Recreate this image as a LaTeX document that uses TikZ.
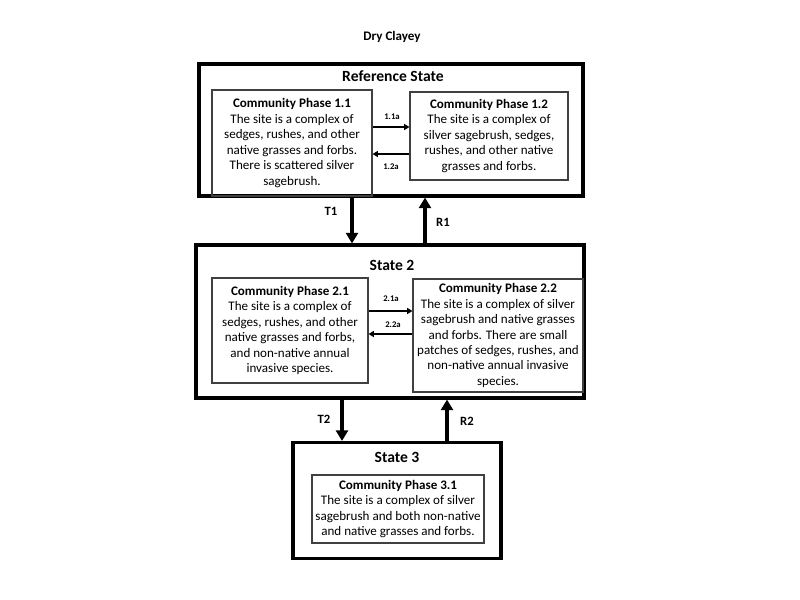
\documentclass[tikz,border=0pt]{standalone}
\usepackage{fontspec}
\setmainfont{Carlito}
\usetikzlibrary{arrows.meta,calc}
\tikzset{
  statebox/.style={draw=black, line width=2.3pt, rectangle, inner sep=0pt},
  phasebox/.style={draw=black!75, line width=0.8pt, rectangle, inner sep=0pt, align=center,
     font=\fontsize{9.8}{11.6}\selectfont},
  statetitle/.style={font=\fontsize{11.7}{13}\selectfont\bfseries, inner sep=0pt},
  bigarrow/.style={line width=3pt, -{Triangle[length=8pt,width=9pt]}},
  smallarrow/.style={line width=1pt, -{Triangle[length=4pt,width=4.5pt]}},
  smalllabel/.style={font=\fontsize{6.5}{7}\selectfont\bfseries, inner sep=0pt},
  translabel/.style={font=\fontsize{9.5}{10}\selectfont\bfseries, inner sep=0pt},
}
\begin{document}
\begin{tikzpicture}[x=0.75pt,y=-0.75pt]
\useasboundingbox (0,0) rectangle (800,600);
\node[font=\fontsize{9.8}{11}\selectfont\bfseries, inner sep=0pt] (title) at (392,37) {Dry Clayey};

% Reference State
\node[statebox, minimum width=384*0.75pt, minimum height=132*0.75pt] (ref) at (391,130) {};
\node[statetitle] (reft) at (393,76) {Reference State};
\node[phasebox, minimum width=160*0.75pt, minimum height=106*0.75pt] (p11) at (292,143)
 {\textbf{Community Phase 1.1}\\The site is a complex of\\sedges, rushes, and other\\native grasses and forbs.\\There is scattered silver\\sagebrush.};
\node[phasebox, minimum width=158*0.75pt, minimum height=88*0.75pt] (p12) at (489,136)
 {\textbf{Community Phase 1.2}\\The site is a complex of\\silver sagebrush, sedges,\\rushes, and other native\\grasses and forbs.};
\draw[smallarrow] (p11.east |- 0,127) -- (p12.west |- 0,127);
\draw[smallarrow] (p12.west |- 0,154) -- (p11.east |- 0,154);
\node[smalllabel] (l11a) at (392,117) {1.1a};
\node[smalllabel] (l12a) at (391,167) {1.2a};

% State 2
\node[statebox, minimum width=388*0.75pt, minimum height=153*0.75pt] (s2) at (390,321.5) {};
\node[statetitle] (s2t) at (392,265) {State 2};
\node[phasebox, minimum width=156*0.75pt, minimum height=105*0.75pt] (p21) at (290,330.5)
 {\textbf{Community Phase 2.1}\\The site is a complex of\\sedges, rushes, and other\\native grasses and forbs,\\and non-native annual\\invasive species.};
\node[phasebox, minimum width=170*0.75pt, minimum height=113*0.75pt] (p22) at (498,335.5)
 {\textbf{Community Phase 2.2}\\The site is a complex of silver\\sagebrush and native grasses\\and forbs. There are small\\patches of sedges, rushes, and\\non-native annual invasive\\species.};
\draw[smallarrow] (p21.east |- 0,311) -- (p22.west |- 0,311);
\draw[smallarrow] (p22.west |- 0,334) -- (p21.east |- 0,334);
\node[smalllabel] (l21a) at (391,299) {2.1a};
\node[smalllabel] (l22a) at (393,325) {2.2a};

% State 3
\node[statebox, minimum width=208*0.75pt, minimum height=116*0.75pt] (s3) at (397,500.5) {};
\node[statetitle] (s3t) at (397,457) {State 3};
\node[phasebox, minimum width=172*0.75pt, minimum height=68*0.75pt] (p31) at (398,509)
 {\textbf{Community Phase 3.1}\\The site is a complex of silver\\sagebrush and both non-native\\and native grasses and forbs.};

% Transitions
\coordinate (xT1) at (352,0);
\coordinate (xR1) at (425,0);
\coordinate (xT2) at (342,0);
\coordinate (xR2) at (447,0);
\draw[bigarrow] (ref.south -| xT1) -- (s2.north -| xT1);
\draw[bigarrow] (s2.north -| xR1) -- (ref.south -| xR1);
\draw[bigarrow] (s2.south -| xT2) -- (s3.north -| xT2);
\draw[bigarrow] (s3.north -| xR2) -- (s2.south -| xR2);
\node[translabel] (lT1) at (331,211) {T1};
\node[translabel] (lR1) at (443,222) {R1};
\node[translabel] (lT2) at (324,419) {T2};
\node[translabel] (lR2) at (467,421) {R2};
\end{tikzpicture}
\end{document}
